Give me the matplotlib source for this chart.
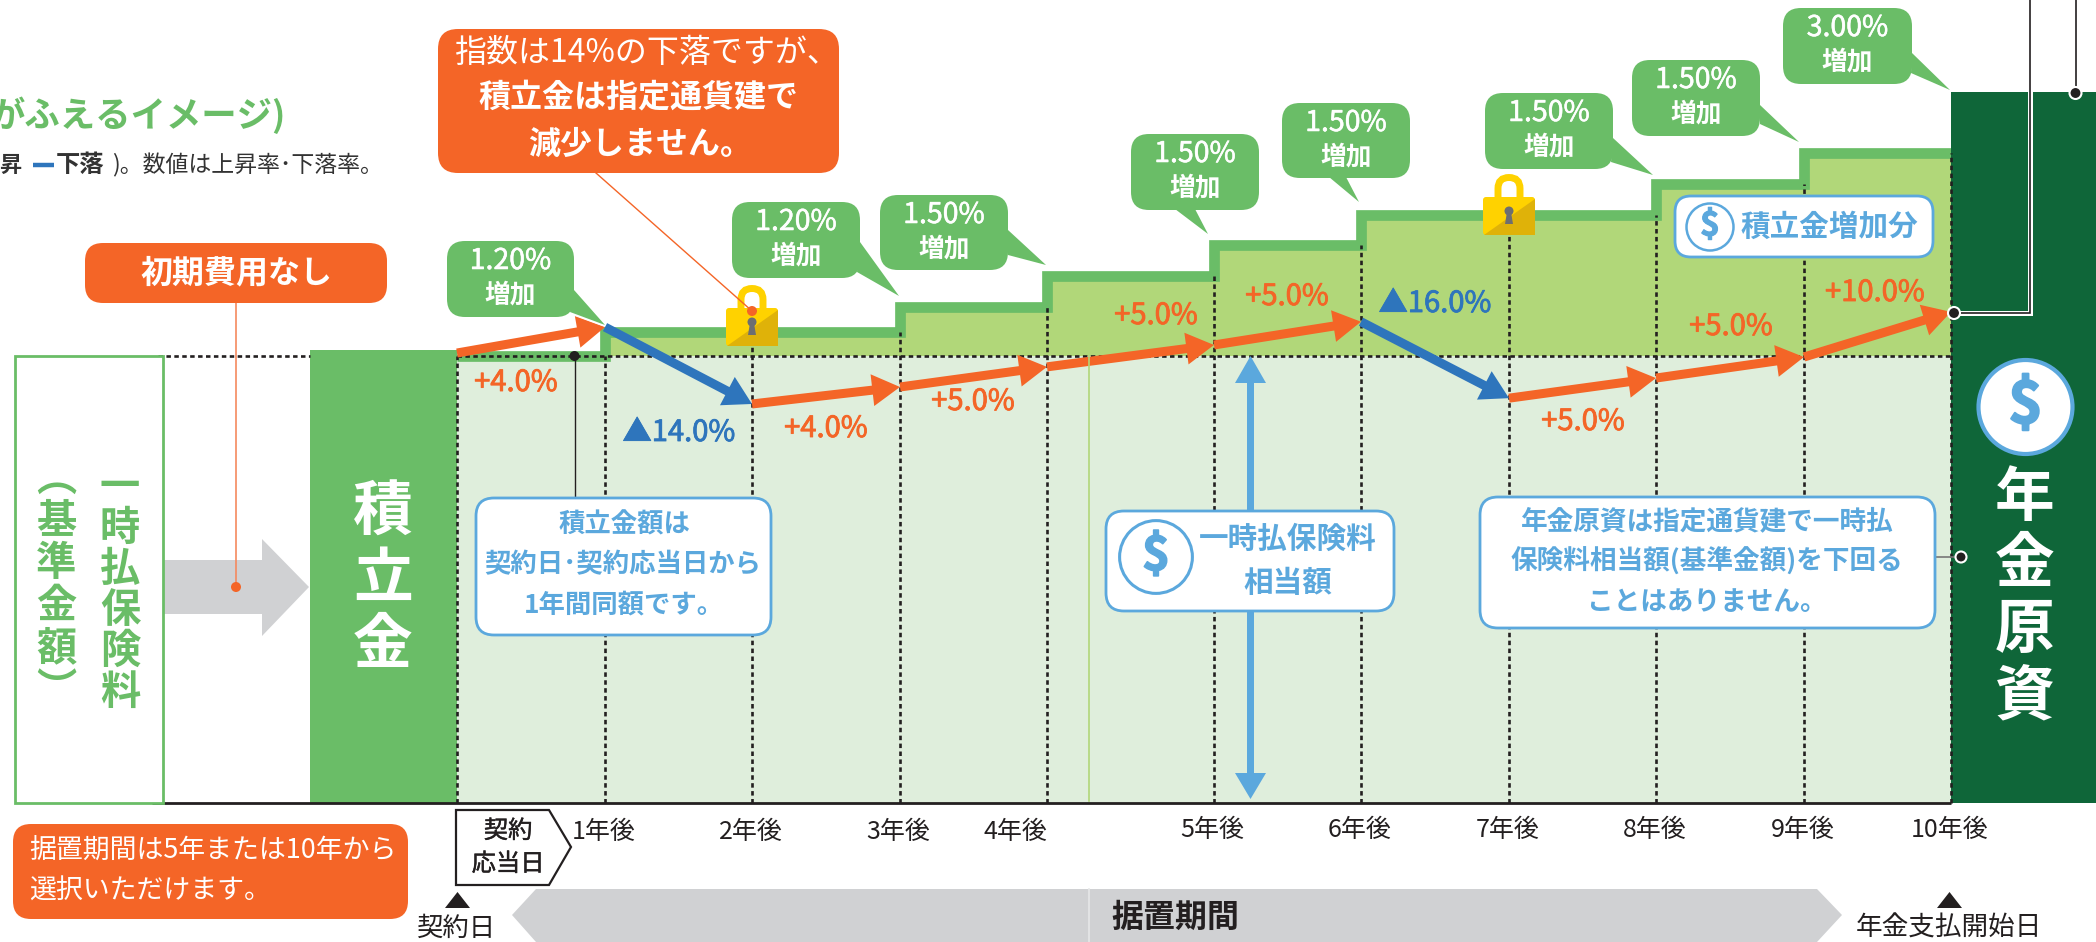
import numpy as np
import matplotlib
matplotlib.use("Agg")
import matplotlib.pyplot as plt
import matplotlib.patheffects as pe
from matplotlib.patches import FancyBboxPatch, Polygon, Circle, Rectangle

plt.rcParams['font.family'] = ['Noto Sans CJK JP', 'DejaVu Sans']

# datos (base = 100)
years = np.arange(0, 11)
fund_levels = [100, 105.4, 105.4, 110.9, 117.8, 124.7, 131.5, 131.5, 138.4, 145.3, 145.3]
index_levels = [100.6, 106.4, 89.2, 93.0, 97.5, 102.4, 107.6, 90.5, 95.0, 99.7, 109.8]
index_changes = [4.0, -14.0, 4.0, 5.0, 5.0, 5.0, -16.0, 5.0, 5.0, 10.0]
bubble_rates = ['1.20%', '1.20%', '1.50%', '1.50%', '1.50%', '1.50%', '1.50%', '3.00%']
start_fund = 101.3
final_fund = 159
year_labels = ['1年後', '2年後', '3年後', '4年後', '5年後', '6年後', '7年後', '8年後', '9年後', '10年後']

ORANGE = '#F46527'
GREEN = '#6ABD67'
PALE = '#DFEEDC'
LIGHT = '#B1D779'
DARK = '#0F6639'
BLUE = '#2E75BC'
SKY = '#5BA8DD'
GRAY = '#D0D1D3'
INK = '#231F20'

W, H = 2096, 942
fig = plt.figure(figsize=(W / 100, H / 100), dpi=100)

# eje de datos: anios en x (espaciado irregular), monto en y
x_keys = [-3, -1] + list(years) + [11]
x_px = [0, 309.5, 457, 605, 752, 900, 1047, 1214, 1361, 1509, 1656, 1804, 1951, 2096]
PX_PER_UNIT = 4.47
BASE_PX = 802.7

ax = fig.add_axes([0, 0, 1, 1])
ax.set_xscale('function', functions=(lambda v: np.interp(v, x_keys, x_px),
                                     lambda p: np.interp(p, x_px, x_keys)))
ax.set_xlim(-3, 11)
ax.set_ylim((BASE_PX - H) / PX_PER_UNIT, BASE_PX / PX_PER_UNIT)
ax.axis('off')

ax.fill_between([0, 10], 0, 100, color=PALE, lw=0, zorder=1)
ax.fill_between(years, 100, fund_levels, step='post', color=LIGHT, lw=0, zorder=1)
ax.bar(-0.5, start_fund, width=1, color=GREEN, zorder=3)
ax.bar(10.5, final_fund, width=1, color=DARK, zorder=3)
ax.step(years, fund_levels, where='post', color=GREEN, lw=7.7,
        solid_joinstyle='miter', solid_capstyle='butt', zorder=2)

# lineas punteadas
dash = (0, (1.7, 1.3))
for i in years:
    top = fund_levels[max(i - 1, 0)]
    ax.plot([i, i], [0, top], color=INK, lw=1.9, ls=dash, zorder=4)
ax.plot([0, 10], [100, 100], color=INK, lw=1.9, ls=dash, zorder=4)
ax.plot([-1.98, -1], [100, 100], color=INK, lw=1.9, ls=dash, zorder=4)
ax.plot([-2.02, 10], [0, 0], color=INK, lw=2, zorder=5, solid_capstyle='butt')

# flechas del indice
for i, change in enumerate(index_changes):
    col = ORANGE if change > 0 else BLUE
    ax.annotate('', xy=(years[i + 1], index_levels[i + 1]), xytext=(years[i], index_levels[i]),
                arrowprops=dict(arrowstyle='simple,head_length=20,head_width=23,tail_width=6.5',
                                mutation_scale=1, shrinkA=0, shrinkB=0, color=col, lw=0),
                zorder=6)

# etiquetas del eje x
for i, label in enumerate(year_labels):
    dx = -23 if i == 3 else -1
    dy = -21 if i < 4 else -19.5
    ax.annotate(label, (years[i + 1], 0), xytext=(dx, dy), textcoords='offset points',
                ha='center', va='center', fontsize=18, color=INK, annotation_clip=False)

# lienzo en pixeles para recuadros y textos
cv = fig.add_axes([0, 0, 1, 1], facecolor='none')
cv.set_xlim(0, W)
cv.set_ylim(H, 0)
cv.axis('off')


def box(x0, x1, y0, y1, fc, ec='none', lw=0, r=18, z=10):
    cv.add_patch(FancyBboxPatch((x0, y0), x1 - x0, y1 - y0, boxstyle='round,pad=0,rounding_size=%g' % r,
                                fc=fc, ec=ec, lw=lw, zorder=z))


def txt(x, y, s, size, color, bold=True, ha='center', z=14, stroke=0, **kw):
    t = cv.text(x, y, s, fontsize=size, color=color, ha=ha, va='center',
                fontweight='bold' if bold else 'normal', zorder=z, **kw)
    if stroke:
        # engrosa un poco la letra (peso medio)
        t.set_path_effects([pe.withStroke(linewidth=stroke, foreground=color)])
    return t


def dot(x, y, r=5.5, fc=INK, ec='white', lw=1.5, z=13):
    cv.add_patch(Circle((x, y), r, fc=fc, ec=ec, lw=lw, zorder=z))


def dollar(x, y, r, size, fc='white', lw=2.5, z=12):
    cv.add_patch(Circle((x, y), r, fc=fc, ec=SKY, lw=lw, zorder=z))
    txt(x, y - 1, '$', size, SKY, z=z + 1, stroke=size * 0.035)


def lock(x, top):
    cv.add_patch(FancyBboxPatch((x - 11, top + 3.5), 22, 30, boxstyle='round,pad=0,rounding_size=11',
                                fc='none', ec='#FFD200', lw=5, zorder=8))
    cv.add_patch(FancyBboxPatch((x - 26, top + 23), 52, 38, boxstyle='round,pad=0,rounding_size=3',
                                fc='#FFD200', ec='none', zorder=9))
    cv.add_patch(Polygon([(x + 26, top + 25), (x + 26, top + 61), (x - 25, top + 61)],
                         fc='#DFB209', ec='none', zorder=9))
    cv.add_patch(Circle((x, top + 37), 4.5, fc='#6D6E71', ec='none', zorder=9))
    cv.add_patch(Polygon([(x - 2, top + 38), (x + 2, top + 38), (x + 4, top + 50), (x - 4, top + 50)],
                         fc='#6D6E71', ec='none', zorder=9))


# burbujas verdes: caja y punta
bubble_boxes = [(447, 574, 241, 317), (732, 860, 202, 278), (880, 1008, 195, 270), (1131, 1259, 134, 210),
                (1282, 1410, 103, 178), (1485, 1613, 93, 169), (1632, 1760, 60, 136), (1783, 1912, 8, 84)]
bubble_tails = [[(574, 290), (605, 325), (570, 312)], [(860, 242), (899, 296), (857, 272)],
                [(1008, 230), (1046, 265), (1008, 255)], [(1175, 209), (1208, 234), (1195, 209)],
                [(1329, 177), (1359, 202), (1346, 177)], [(1613, 138), (1653, 175), (1611, 162)],
                [(1760, 105), (1799, 142), (1760, 124)], [(1912, 53), (1950, 90), (1911, 73)]]
for (x0, x1, y0, y1), tail, rate in zip(bubble_boxes, bubble_tails, bubble_rates):
    box(x0, x1, y0, y1, 'white', 'white', 1.6, z=10)
    cv.add_patch(Polygon(tail, fc='white', ec='white', lw=2.5, zorder=10))
    box(x0, x1, y0, y1, GREEN, z=11)
    cv.add_patch(Polygon(tail, fc=GREEN, ec='none', zorder=11))
    txt((x0 + x1) / 2, y0 + 20, rate, 20.5, 'white', bold=False, z=12, stroke=0.4)
    txt((x0 + x1) / 2, y0 + 54, '増加', 18.5, 'white', z=12)

lock(752, 285)
lock(1509, 174)

# etiquetas de variacion del indice
label_pos = [(516, 383), (679, 433), (826, 429), (973, 402), (1156, 316),
             (1287, 297), (1435, 304), (1583, 422), (1731, 327), (1875, 293)]
for change, (x, y) in zip(index_changes, label_pos):
    if change > 0:
        txt(x, y, '+%.1f%%' % change, 21, ORANGE, bold=False, z=9, stroke=0.6)
    else:
        txt(x, y, '▲%.1f%%' % abs(change), 21, BLUE, bold=False, z=9, stroke=0.6)

# cabecera recortada a la izquierda
txt(286, 115, 'がふえるイメージ)', 25.5, GREEN, ha='right')
txt(-1, 165, '昇', 16, '#333333', ha='left')
cv.plot([33, 54], [165, 165], color=BLUE, lw=3.2, solid_capstyle='butt')
txt(56, 165, '下落', 17.5, '#333333', ha='left')
txt(112, 165, ')。数値は上昇率･下落率。', 16.5, '#333333', bold=False, ha='left')

# caja naranja superior
box(438, 839, 29, 173, ORANGE, r=20)
txt(646, 53, '指数は14%の下落ですが、', 23, 'white', bold=False)
txt(638, 98, '積立金は指定通貨建で', 23, 'white')
txt(640, 145, '減少しません。', 23, 'white')
cv.plot([596, 752], [173, 311], color=ORANGE, lw=1, zorder=12)
dot(752, 311, 5, ORANGE, 'none', 0)

# costo inicial
box(85, 387, 243, 303, ORANGE, r=18)
txt(236, 273, '初期費用なし', 23, 'white')
cv.add_patch(Polygon([(163, 560), (262, 560), (262, 539), (309, 587), (262, 636), (262, 614), (163, 614)],
                     fc=GRAY, ec='none', zorder=6))
cv.plot([236, 236], [303, 587], color='#F58A5F', lw=1.2, zorder=7)
dot(236, 587, 5, ORANGE, 'none', 0, z=8)

# rectangulo de prima unica
cv.add_patch(Rectangle((15, 356), 148, 447, fc='white', ec=GREEN, lw=2, zorder=7))
txt(120, 590, '\n'.join('一時払保険料'), 29, GREEN, linespacing=1.0)
txt(56, 585, '\n'.join('︵基準金額︶'), 29, GREEN, linespacing=1.04)

# barras
txt(383, 580, '\n'.join('積立金'), 43, 'white', linespacing=1.13)
txt(2025, 598, '\n'.join('年金原資'), 43, 'white', linespacing=1.13)
dollar(2025.5, 407, 47, 42, lw=3)

# lineas guia arriba a la derecha
for lw, col, z in [(3.6, 'white', 7), (1.2, INK, 8)]:
    cv.plot([1954, 2030, 2030], [313, 313, 0], color=col, lw=lw, zorder=z, solid_joinstyle='miter')
    cv.plot([2075.5, 2075.5], [0, 93], color=col, lw=lw, zorder=z)
dot(1954, 313, 6)
dot(2075.5, 93, 6)

# flecha azul doble del monto base
cv.add_patch(Rectangle((1247, 375), 7, 400, fc=SKY, ec='none', zorder=7))
cv.add_patch(Polygon([(1250.5, 356), (1266, 383), (1235, 383)], fc=SKY, ec='none', zorder=7))
cv.add_patch(Polygon([(1250.5, 799), (1266, 773), (1235, 773)], fc=SKY, ec='none', zorder=7))

# recuadros azules
box(1675, 1933, 196, 257, 'white', SKY, 2, r=16)
dollar(1710, 227, 23.5, 24, lw=1.8)
txt(1829, 227, '積立金増加分', 21.3, SKY)

box(476, 771, 498, 635, 'white', SKY, 2, r=18)
txt(624, 525, '積立金額は', 19, SKY)
txt(623, 565, '契約日･契約応当日から', 19, SKY)
txt(624, 605, '1年間同額です。', 19, SKY)
cv.plot([574.5, 574.5], [356, 498], color=INK, lw=1, zorder=8)
dot(574.5, 356, 5, INK, 'none', 0)

box(1106, 1394, 511, 611, 'white', SKY, 2, r=18)
dollar(1156, 557, 36.4, 34, lw=2.2)
txt(1288, 539, '一時払保険料', 21.3, SKY)
txt(1288, 583, '相当額', 21.3, SKY)

box(1480, 1935, 497, 628, 'white', SKY, 2, r=18)
txt(1707, 522, '年金原資は指定通貨建で一時払', 19.2, SKY)
txt(1707, 562, '保険料相当額(基準金額)を下回る', 19.2, SKY)
txt(1707, 602, 'ことはありません。', 19.2, SKY)
cv.plot([1935, 1960], [557, 557], color='#777777', lw=1.2, zorder=8)
dot(1961, 557, 5.5)

# parte inferior
box(13, 408, 824, 919, ORANGE, r=18)
txt(29.5, 850, '据置期間は5年または10年から', 19.4, 'white', bold=False, ha='left')
txt(29.5, 891, '選択いただけます。', 19.4, 'white', bold=False, ha='left')

cv.add_patch(Polygon([(456, 810), (549, 810), (571, 847), (549, 885), (456, 885)],
                     fc='white', ec=INK, lw=1.6, zorder=10))
txt(508, 831, '契約', 17.5, INK, bold=False, stroke=0.3)
txt(508, 864, '応当日', 17.5, INK, bold=False, stroke=0.3)

cv.add_patch(Polygon([(457.5, 892), (470, 908), (445, 908)], fc=INK, ec='none', zorder=10))
txt(457, 928, '契約日', 19, INK, bold=False)
cv.add_patch(Polygon([(1949.5, 892), (1962, 908), (1937, 908)], fc=INK, ec='none', zorder=10))
txt(1949, 928, '年金支払開始日', 19.2, INK, bold=False)

cv.add_patch(Polygon([(512, 915), (536, 889), (1817, 889), (1842, 915), (1817, 942), (536, 942)],
                     fc=GRAY, ec='none', zorder=6))
cv.plot([1089, 1089], [889, 942], color='#E6E7E8', lw=1.2, zorder=7)
cv.plot([1089, 1089], [356, 801], color=LIGHT, lw=1.2, zorder=5)
txt(1175, 918, '据置期間', 23, INK)

fig.savefig('out.png', dpi=100)
